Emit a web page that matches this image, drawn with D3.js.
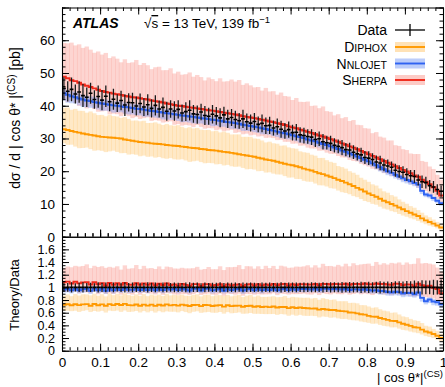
<!DOCTYPE html>
<html>
<head>
<meta charset="utf-8">
<script src="https://cdn.jsdelivr.net/npm/d3@7"></script>
<style>
  body { margin: 0; background: #fff; }
  svg { display: block; }
  text { font-family: "Liberation Sans", Arial, Helvetica, sans-serif; fill: #000; }
</style>
</head>
<body>
<svg id="chart" width="445" height="387"></svg>
<script>
// |cos theta*| (Collins-Soper) bins: 100 bins of width 0.01 from 0 to 1
const binWidth = 0.01;
const binLow = d3.range(100).map(i => +(i * binWidth).toFixed(2));

// Measured differential cross-section [pb] and its uncertainty
const dataVal = [
  45.3, 44.4, 45.0, 43.6, 44.2, 43.1, 42.6, 43.8, 41.9, 42.8,
  41.7, 42.9, 41.2, 42.0, 40.8, 41.6, 40.2, 41.0, 40.9, 39.9,
  40.7, 39.6, 40.3, 39.2, 40.1, 39.0, 39.5, 38.3, 39.0, 38.4,
  38.9, 37.8, 38.2, 38.6, 37.5, 37.3, 38.1, 37.0, 36.8, 37.4,
  36.9, 36.3, 37.2, 36.0, 36.4, 35.8, 35.4, 36.0, 35.1, 34.7,
  35.2, 34.3, 34.6, 33.9, 34.0, 33.2, 33.6, 32.8, 32.3, 32.7,
  31.8, 31.9, 31.1, 30.9, 30.6, 30.4, 29.7, 29.9, 29.0, 28.7,
  28.5, 27.9, 27.6, 27.2, 26.6, 26.5, 25.8, 25.3, 25.0, 24.2,
  24.0, 23.6, 22.8, 22.5, 21.9, 21.6, 21.2, 20.3, 19.9, 19.7,
  19.0, 18.6, 18.4, 17.3, 16.8, 16.5, 15.6, 15.2, 14.4, 13.9
];
const dataErr = [
  3.4, 3.1, 3.6, 2.9, 3.3, 3.5, 3.0, 3.2, 2.8, 3.4,
  3.1, 3.3, 2.9, 3.2, 2.7, 3.0, 3.3, 2.8, 3.1, 2.9,
  3.0, 2.7, 3.2, 2.8, 3.1, 2.6, 3.0, 2.9, 2.7, 3.0,
  2.8, 2.6, 2.9, 3.1, 2.7, 2.8, 2.5, 2.9, 2.6, 2.8,
  2.7, 2.9, 2.5, 2.8, 2.6, 2.7, 2.4, 2.8, 2.5, 2.6,
  2.6, 2.4, 2.7, 2.5, 2.6, 2.3, 2.5, 2.6, 2.4, 2.5,
  2.4, 2.5, 2.3, 2.4, 2.2, 2.4, 2.3, 2.2, 2.4, 2.1,
  2.3, 2.2, 2.1, 2.3, 2.0, 2.2, 2.1, 2.0, 2.2, 2.0,
  2.1, 1.9, 2.0, 2.2, 1.9, 2.0, 1.8, 2.0, 1.9, 1.8,
  1.9, 1.8, 2.0, 1.7, 1.9, 1.8, 1.7, 1.8, 1.6, 1.7
];

// DIPHOX prediction [pb] with relative up/down uncertainty
const diphoxVal = [
  32.8, 32.6, 32.3, 32.0, 31.8, 31.5, 31.3, 31.1, 30.9, 30.7,
  30.5, 30.4, 30.3, 30.2, 30.1, 30.0, 29.7, 29.5, 29.3, 29.1,
  28.9, 28.8, 28.7, 28.5, 28.4, 28.3, 28.2, 28.0, 27.9, 27.8,
  27.7, 27.5, 27.4, 27.2, 27.1, 27.0, 26.8, 26.7, 26.5, 26.4,
  26.3, 26.1, 25.9, 25.8, 25.6, 25.4, 25.2, 25.0, 24.8, 24.6,
  24.4, 24.1, 23.9, 23.6, 23.4, 23.2, 22.9, 22.6, 22.3, 22.0,
  21.8, 21.5, 21.2, 20.8, 20.5, 20.2, 19.8, 19.4, 19.1, 18.7,
  18.3, 17.9, 17.4, 17.0, 16.5, 16.0, 15.5, 14.9, 14.4, 13.8,
  13.2, 12.7, 12.2, 11.6, 11.0, 10.5, 10.0, 9.5, 8.9, 8.4,
  7.8, 7.3, 6.8, 6.3, 5.6, 5.0, 4.5, 4.0, 3.4, 2.8
];
const diphoxUp = [
  .20, .21, .20, .22, .21, .22, .21, .23, .22, .21,
  .22, .21, .23, .22, .22, .21, .23, .22, .21, .22,
  .22, .23, .21, .22, .23, .22, .21, .23, .22, .22,
  .23, .22, .21, .23, .22, .23, .22, .22, .23, .22,
  .23, .22, .24, .23, .22, .23, .24, .22, .23, .24,
  .23, .24, .23, .22, .24, .23, .24, .23, .25, .24,
  .24, .25, .23, .24, .25, .24, .25, .24, .26, .25,
  .25, .26, .24, .25, .26, .25, .26, .27, .25, .26,
  .27, .26, .28, .27, .26, .28, .27, .29, .28, .27,
  .29, .28, .30, .29, .31, .30, .32, .31, .33, .32
];
const diphoxDn = [
  .13, .14, .13, .14, .15, .14, .13, .14, .15, .14,
  .14, .15, .14, .13, .14, .15, .14, .15, .14, .14,
  .15, .14, .15, .14, .15, .14, .15, .15, .14, .15,
  .15, .14, .15, .16, .15, .14, .15, .16, .15, .15,
  .16, .15, .16, .15, .16, .16, .15, .16, .17, .16,
  .16, .17, .16, .17, .16, .17, .17, .16, .17, .18,
  .17, .18, .17, .18, .18, .17, .18, .19, .18, .18,
  .19, .18, .19, .20, .19, .19, .20, .19, .20, .21,
  .20, .21, .20, .21, .22, .21, .22, .21, .22, .23,
  .22, .23, .22, .24, .23, .24, .25, .24, .25, .26
];

// NNLOJET prediction [pb] with relative up/down uncertainty
const nnlojetVal = [
  43.8, 43.3, 42.9, 42.6, 42.2, 41.9, 41.6, 41.4, 41.1, 40.9,
  40.7, 40.5, 40.3, 40.1, 40.0, 39.8, 39.6, 39.5, 39.3, 39.1,
  39.0, 38.8, 38.6, 38.4, 38.3, 38.1, 37.9, 37.7, 37.6, 37.4,
  37.2, 37.0, 36.9, 36.7, 36.6, 36.4, 36.2, 36.1, 35.9, 35.7,
  35.6, 35.4, 35.2, 35.0, 34.9, 34.7, 34.5, 34.2, 34.0, 33.8,
  33.6, 33.4, 33.1, 32.9, 32.6, 32.4, 32.1, 31.8, 31.6, 31.3,
  31.0, 30.7, 30.4, 30.1, 29.7, 29.4, 29.1, 28.7, 28.3, 28.0,
  27.6, 27.2, 26.8, 26.3, 25.9, 25.4, 25.0, 24.5, 24.0, 23.5,
  23.0, 22.4, 21.8, 21.2, 20.6, 20.0, 19.5, 18.9, 18.4, 17.8,
  17.3, 16.9, 16.4, 15.9, 14.0, 12.9, 12.6, 11.8, 11.0, 10.2
];
const nnlojetUp = [
  .035, .030, .035, .040, .035, .030, .035, .035, .040, .035,
  .030, .035, .035, .030, .035, .040, .035, .030, .035, .035,
  .035, .030, .035, .040, .035, .035, .030, .035, .035, .040,
  .035, .030, .035, .035, .030, .035, .040, .035, .035, .030,
  .035, .035, .040, .035, .030, .035, .035, .030, .035, .040,
  .035, .035, .030, .035, .040, .035, .035, .030, .035, .035,
  .040, .035, .030, .035, .035, .040, .035, .035, .030, .035,
  .035, .040, .035, .035, .030, .035, .040, .035, .035, .040,
  .035, .040, .035, .040, .040, .035, .040, .045, .040, .040,
  .045, .040, .045, .050, .045, .050, .045, .050, .050, .055
];
const nnlojetDn = [
  .050, .055, .050, .045, .050, .055, .050, .050, .045, .050,
  .055, .050, .050, .055, .050, .045, .050, .055, .050, .050,
  .050, .055, .050, .045, .050, .050, .055, .050, .050, .045,
  .050, .055, .050, .050, .055, .050, .045, .050, .050, .055,
  .050, .050, .045, .050, .055, .050, .050, .055, .050, .045,
  .050, .050, .055, .050, .045, .050, .050, .055, .050, .050,
  .045, .050, .055, .050, .050, .045, .050, .050, .055, .050,
  .050, .045, .050, .050, .055, .050, .045, .050, .055, .050,
  .055, .050, .055, .060, .055, .060, .055, .060, .060, .065,
  .060, .065, .060, .065, .070, .065, .070, .075, .070, .075
];

// SHERPA prediction [pb] with relative up/down uncertainty
const sherpaVal = [
  48.9, 48.4, 47.8, 47.5, 47.0, 46.5, 46.1, 45.7, 45.3, 44.9,
  44.5, 44.2, 44.0, 43.7, 43.5, 43.3, 43.0, 42.8, 42.6, 42.5,
  42.3, 42.1, 41.9, 41.6, 41.4, 41.2, 41.0, 40.7, 40.5, 40.2,
  40.0, 39.9, 39.7, 39.5, 39.4, 39.2, 39.0, 38.8, 38.6, 38.5,
  38.3, 38.1, 37.9, 37.7, 37.5, 37.3, 37.1, 36.8, 36.6, 36.4,
  36.2, 36.0, 35.7, 35.5, 35.2, 35.0, 34.7, 34.4, 34.1, 33.7,
  33.4, 33.1, 32.7, 32.4, 32.0, 31.7, 31.3, 30.9, 30.6, 30.2,
  29.8, 29.4, 29.0, 28.5, 28.1, 27.6, 27.2, 26.7, 26.2, 25.7,
  25.2, 24.7, 24.2, 23.7, 23.1, 22.6, 22.1, 21.5, 21.0, 20.4,
  19.9, 19.4, 18.7, 18.3, 17.4, 16.8, 16.0, 15.1, 14.0, 12.6
];
const sherpaUp = [
  .21, .22, .24, .23, .25, .24, .26, .25, .24, .26,
  .25, .27, .24, .26, .25, .23, .26, .24, .25, .27,
  .24, .26, .25, .23, .25, .26, .24, .25, .27, .24,
  .26, .24, .25, .27, .24, .26, .25, .23, .26, .25,
  .24, .27, .25, .26, .28, .27, .29, .26, .28, .27,
  .26, .27, .25, .28, .26, .27, .25, .28, .26, .27,
  .25, .28, .26, .27, .29, .26, .28, .27, .30, .27,
  .28, .26, .29, .27, .30, .28, .31, .28, .30, .29,
  .31, .28, .32, .29, .31, .30, .33, .30, .32, .31,
  .33, .31, .35, .38, .33, .36, .34, .37, .35, .38
];
const sherpaDn = [
  .14, .15, .13, .14, .15, .14, .15, .13, .14, .15,
  .14, .13, .15, .14, .14, .15, .13, .14, .15, .14,
  .15, .14, .13, .15, .14, .14, .15, .14, .13, .15,
  .14, .15, .14, .14, .15, .13, .14, .15, .14, .14,
  .15, .14, .15, .14, .13, .15, .14, .15, .14, .15,
  .14, .15, .14, .15, .14, .14, .15, .14, .15, .14,
  .15, .14, .15, .14, .15, .15, .14, .15, .14, .15,
  .15, .14, .15, .15, .14, .15, .15, .14, .15, .15,
  .15, .16, .15, .15, .16, .15, .16, .15, .16, .16,
  .16, .17, .16, .18, .17, .17, .18, .17, .18, .18
];

// Axis tick values
const xMajorTicks = [0, 0.1, 0.2, 0.3, 0.4, 0.5, 0.6, 0.7, 0.8, 0.9, 1];
const xTickLabels = ["0", "0.1", "0.2", "0.3", "0.4", "0.5", "0.6", "0.7", "0.8", "0.9", "1"];
const xMinorTicks = d3.range(0, 1.0001, 0.02);
const yUpperMajor = [0, 10, 20, 30, 40, 50, 60, 70];
const yUpperLabels = ["0", "10", "20", "30", "40", "50", "60", ""];
const yUpperMinor = d3.range(0, 70.001, 2);
const yLowerMajor = [0, 0.2, 0.4, 0.6, 0.8, 1, 1.2, 1.4, 1.6];
const yLowerLabels = ["0", "0.2", "0.4", "0.6", "0.8", "1", "1.2", "1.4", "1.6"];
const yLowerMinor = d3.range(0, 1.8001, 0.05);

// ---------------------------------------------------------------------------
const svg = d3.select("#chart");
const X0 = 62, X1 = 443;
const upTop = 7.5, upBot = 236.7, loBot = 350.7;

const x = d3.scaleLinear().domain([0, 1]).range([X0, X1]);
const yU = d3.scaleLinear().domain([0, 70]).range([upBot, upTop]);
const yL = d3.scaleLinear().domain([0, 1.8]).range([loBot, upBot]);

const defs = svg.append("defs");
defs.append("clipPath").attr("id", "clipU").append("rect")
  .attr("x", X0).attr("y", upTop).attr("width", X1 - X0).attr("height", upBot - upTop);
defs.append("clipPath").attr("id", "clipL").append("rect")
  .attr("x", X0).attr("y", upBot).attr("width", X1 - X0).attr("height", loBot - upBot);

const colors = {
  sherpa: { line: "#f0281a", band: "#fb9c92", op: 0.42 },
  diphox: { line: "#ff9900", band: "#ffbb55", op: 0.33 },
  nnlojet: { line: "#2f63f2", band: "#7f9ff5", op: 0.42 }
};

const preds = [
  { key: "sherpa", val: sherpaVal, up: sherpaUp, dn: sherpaDn },
  { key: "diphox", val: diphoxVal, up: diphoxUp, dn: diphoxDn },
  { key: "nnlojet", val: nnlojetVal, up: nnlojetUp, dn: nnlojetDn }
];

const stepLine = (yScale) => d3.line()
  .x(d => x(d[0])).y(d => yScale(d[1]))
  .curve(d3.curveStepAfter);

function stepPoints(vals) {
  const pts = vals.map((v, i) => [binLow[i], v]);
  pts.push([binLow[vals.length - 1] + binWidth, vals[vals.length - 1]]);
  return pts;
}

function drawPanel(g, yScale, norm) {
  // uncertainty bands, one box per bin
  preds.forEach(p => {
    const c = colors[p.key];
    g.append("g").selectAll("rect").data(p.val).join("rect")
      .attr("x", (d, i) => x(binLow[i]) - 0.3)
      .attr("width", x(binWidth) - x(0) + 0.6)
      .attr("y", (d, i) => yScale(d * (1 + p.up[i]) / norm(i)))
      .attr("height", (d, i) => yScale(d * (1 - p.dn[i]) / norm(i)) - yScale(d * (1 + p.up[i]) / norm(i)))
      .attr("fill", c.band).attr("fill-opacity", c.op);
  });
  // central predictions as step histograms
  ["diphox", "nnlojet", "sherpa"].forEach(k => {
    const p = preds.find(q => q.key === k);
    g.append("path")
      .attr("d", stepLine(yScale)(stepPoints(p.val.map((v, i) => v / norm(i)))))
      .attr("fill", "none").attr("stroke", colors[k].line).attr("stroke-width", 1.9);
  });
  // data points with error bars
  const dg = g.append("g");
  dataVal.forEach((v, i) => {
    const c = v / norm(i), e = dataErr[i] / norm(i);
    const xc = x(binLow[i] + binWidth / 2);
    dg.append("line").attr("x1", xc).attr("x2", xc)
      .attr("y1", yScale(c - e)).attr("y2", yScale(c + e))
      .attr("stroke", "#1a1a1a").attr("stroke-width", 1.3);
    dg.append("line").attr("x1", x(binLow[i])).attr("x2", x(binLow[i] + binWidth))
      .attr("y1", yScale(c)).attr("y2", yScale(c))
      .attr("stroke", "#000").attr("stroke-width", 1.6);
  });
}

const gU = svg.append("g").attr("clip-path", "url(#clipU)");
drawPanel(gU, yU, () => 1);
const gL = svg.append("g").attr("clip-path", "url(#clipL)");
drawPanel(gL, yL, i => dataVal[i]);

// ---------------------------------------------------------------------------
// Axes (ROOT style: ticks pointing into the frame)
function axis(gen, transform, major, minor, majLen, minLen, labels, fontSize, pad) {
  const gMin = svg.append("g").attr("transform", transform)
    .call(gen.tickValues(minor).tickSize(-minLen).tickSizeOuter(0).tickFormat(""));
  gMin.select(".domain").remove();
  const g = svg.append("g").attr("transform", transform)
    .call(gen.tickValues(major).tickSize(-majLen).tickSizeOuter(0).tickPadding(pad)
      .tickFormat((d, i) => labels ? labels[i] : ""));
  g.select(".domain").attr("stroke", "#000").attr("stroke-width", 1.1);
  g.selectAll("line").attr("stroke", "#000");
  gMin.selectAll("line").attr("stroke", "#000");
  g.selectAll("text").attr("font-size", fontSize).attr("fill", "#000")
    .attr("font-family", '"Liberation Sans", Arial, sans-serif');
  return g;
}

// upper panel
axis(d3.axisLeft(yU), `translate(${X0},0)`, yUpperMajor, yUpperMinor, 7, 3.5, yUpperLabels, 13.5, 7);
axis(d3.axisRight(yU), `translate(${X1},0)`, yUpperMajor, yUpperMinor, 7, 3.5, null, 13, 3);
axis(d3.axisTop(x), `translate(0,${upTop})`, xMajorTicks, xMinorTicks, 7, 3.5, null, 13, 3);
axis(d3.axisBottom(x), `translate(0,${upBot})`, xMajorTicks, xMinorTicks, 7, 3.5, null, 13, 3);
// lower panel
axis(d3.axisLeft(yL), `translate(${X0},0)`, yLowerMajor, yLowerMinor, 7, 3.5, yLowerLabels, 12.5, 7);
axis(d3.axisRight(yL), `translate(${X1},0)`, yLowerMajor, yLowerMinor, 7, 3.5, null, 13, 3);
axis(d3.axisTop(x), `translate(0,${upBot})`, xMajorTicks, xMinorTicks, -7, -3.5, null, 13, 3);
axis(d3.axisBottom(x), `translate(0,${loBot})`, xMajorTicks, xMinorTicks, 7, 3.5, xTickLabels, 13.5, 7);

// ---------------------------------------------------------------------------
// Axis titles
const yt = svg.append("text")
  .attr("transform", "translate(20,118) rotate(-90)")
  .attr("text-anchor", "middle").attr("font-size", 14);
yt.append("tspan").text("dσ / d | cos θ* |");
yt.append("tspan").attr("font-size", 10).attr("dy", -5).text("(CS)");
yt.append("tspan").attr("dy", 5).text("  [pb]");

svg.append("text")
  .attr("transform", "translate(19,295) rotate(-90)")
  .attr("text-anchor", "middle").attr("font-size", 13)
  .text("Theory/Data");

const xt = svg.append("text")
  .attr("x", 443).attr("y", 382).attr("text-anchor", "end").attr("font-size", 13);
xt.append("tspan").text("| cos θ*|");
xt.append("tspan").attr("font-size", 9.5).attr("dy", -5).text("(CS)");

// ---------------------------------------------------------------------------
// ATLAS label
svg.append("text").attr("x", 73).attr("y", 28)
  .attr("font-size", 14).attr("font-weight", "bold").attr("font-style", "italic")
  .text("ATLAS");
const lab = svg.append("text").attr("x", 144).attr("y", 28).attr("font-size", 13.5);
lab.append("tspan").text("√");
lab.append("tspan").attr("text-decoration", "overline").text("s");
lab.append("tspan").text(" = 13 TeV, 139 fb");
lab.append("tspan").attr("font-size", 9.5).attr("dy", -5).text("−1");

// ---------------------------------------------------------------------------
// Legend
const legend = [
  { key: "data", text: "Data" },
  { big: "D", small: "IPHOX", key: "diphox" },
  { big: "N", small: "NLOJET", key: "nnlojet" },
  { big: "S", small: "HERPA", key: "sherpa" }
];
const legX0 = 395, legX1 = 425, legTextX = 387;
const legY = [30, 47, 63.5, 80];
legend.forEach((it, i) => {
  const cy = legY[i];
  const t = svg.append("text").attr("x", legTextX).attr("y", cy + 5)
    .attr("text-anchor", "end").attr("font-size", 14);
  if (it.key === "data") {
    t.text(it.text);
    svg.append("line").attr("x1", legX0).attr("x2", legX1).attr("y1", cy).attr("y2", cy)
      .attr("stroke", "#000").attr("stroke-width", 1.3);
    svg.append("line").attr("x1", (legX0 + legX1) / 2).attr("x2", (legX0 + legX1) / 2)
      .attr("y1", cy - 6).attr("y2", cy + 6).attr("stroke", "#000").attr("stroke-width", 1.3);
  } else {
    t.append("tspan").text(it.big);
    t.append("tspan").attr("font-size", 10.5).text(it.small);
    const c = colors[it.key];
    svg.append("rect").attr("x", legX0).attr("y", cy - 5).attr("width", legX1 - legX0).attr("height", 10)
      .attr("fill", c.band).attr("fill-opacity", c.op + 0.1);
    svg.append("line").attr("x1", legX0).attr("x2", legX1).attr("y1", cy).attr("y2", cy)
      .attr("stroke", c.line).attr("stroke-width", 1.9);
  }
});
</script>
</body>
</html>
